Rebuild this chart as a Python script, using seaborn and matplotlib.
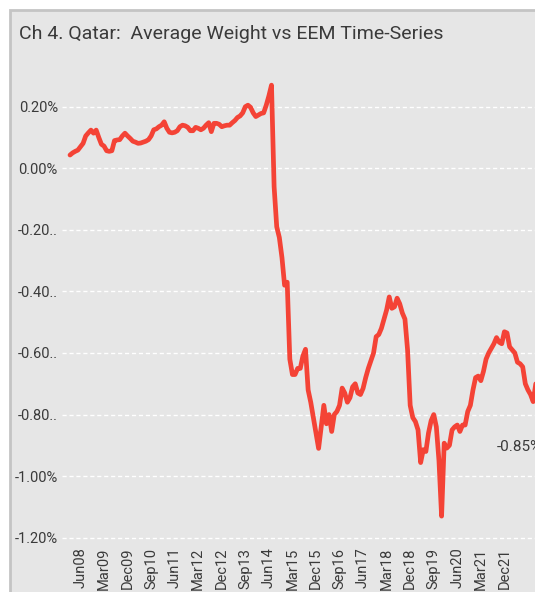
import numpy as np
import pandas as pd
import matplotlib
matplotlib.use("Agg")
import matplotlib.pyplot as plt
import seaborn as sns
from matplotlib.patches import Rectangle

# ---------------- data (monthly) ----------------
START_MONTH = "2008-02"
weights = [
    0.043, 0.05, 0.055, 0.059, 0.07, 0.081, 0.105, 0.115, 0.124, 0.114,
    0.124, 0.10, 0.078, 0.072, 0.057, 0.055, 0.057, 0.09, 0.092, 0.093,
    0.105, 0.114, 0.105, 0.097, 0.088, 0.085, 0.081, 0.082, 0.085, 0.088,
    0.093, 0.105, 0.125, 0.128, 0.135, 0.14, 0.151, 0.13, 0.117, 0.115,
    0.117, 0.122, 0.135, 0.14, 0.138, 0.133, 0.122, 0.122, 0.133, 0.13,
    0.125, 0.13, 0.14, 0.148, 0.119, 0.146, 0.146, 0.143, 0.135, 0.138,
    0.14, 0.14, 0.148, 0.155, 0.165, 0.17, 0.18, 0.2, 0.205, 0.198,
    0.18, 0.168, 0.173, 0.178, 0.18, 0.205, 0.235, 0.27, -0.06, -0.19,
    -0.225, -0.29, -0.38, -0.37, -0.62, -0.67, -0.67, -0.65, -0.65, -0.61,
    -0.588, -0.72, -0.76, -0.81, -0.86, -0.91, -0.84, -0.77, -0.83, -0.80,
    -0.855, -0.80, -0.79, -0.77, -0.714, -0.73, -0.76, -0.745, -0.71, -0.70,
    -0.73, -0.735, -0.715, -0.68, -0.65, -0.625, -0.60, -0.547, -0.54, -0.52,
    -0.49, -0.46, -0.418, -0.455, -0.45, -0.422, -0.44, -0.47, -0.49, -0.59,
    -0.77, -0.81, -0.823, -0.85, -0.956, -0.914, -0.92, -0.86, -0.82, -0.80,
    -0.84, -0.95, -1.13, -0.893, -0.909, -0.90, -0.85, -0.84, -0.834, -0.855,
    -0.834, -0.834, -0.79, -0.77, -0.72, -0.68, -0.675, -0.69, -0.66, -0.62,
    -0.60, -0.585, -0.57, -0.55, -0.565, -0.57, -0.531, -0.535, -0.58, -0.59,
    -0.60, -0.63, -0.635, -0.645, -0.70, -0.72, -0.735, -0.758, -0.70,
]
tick_labels = ["Jun08", "Mar09", "Dec09", "Sep10", "Jun11", "Mar12", "Dec12",
               "Sep13", "Jun14", "Mar15", "Dec15", "Sep16", "Jun17", "Mar18",
               "Dec18", "Sep19", "Jun20", "Mar21", "Dec21"]
y_ticks = [0.2, 0.0, -0.2, -0.4, -0.6, -0.8, -1.0, -1.2]
y_tick_labels = ["0.20%", "0.00%", "-0.20..", "-0.40..", "-0.60..", "-0.80..",
                 "-1.00%", "-1.20%"]
TITLE = "Ch 4. Qatar:  Average Weight vs EEM Time-Series"
END_LABEL = "-0.85%"

W, H = 535, 592
LINE_COLOR = "#f44336"
TEXT_COLOR = "#3a3a3a"

sns.set_theme(style="white")
plt.rcParams["font.family"] = ["Roboto", "DejaVu Sans"]

dates = pd.date_range(START_MONTH, periods=len(weights), freq="MS")
df = pd.DataFrame({"month": np.arange(len(weights)),
                   "weight": weights,
                   "label": dates.strftime("%b%y")})

fig = plt.figure(figsize=(W / 100, H / 100), dpi=100)
fig.patch.set_facecolor("white")
# grey panel with a light border, cut off at right/bottom like the original
fig.patches.append(Rectangle((10 / W, -0.1), 1.2, 1.1 - 10 / H,
                             transform=fig.transFigure, facecolor="#e6e6e6",
                             edgecolor="#c4c4c4", lw=2, zorder=-10))

ax = fig.add_axes([62 / W, 1 - 542 / H, (535 - 62) / W, (542 - 75) / H])
ax.set_facecolor("none")

sns.lineplot(data=df, x="month", y="weight", color=LINE_COLOR, lw=3.4, ax=ax)

ax.set_xlim(-3.06, 177.7)
ax.set_ylim(-1.214, 0.303)

tick_pos = df.loc[df["label"].isin(tick_labels), "month"].tolist()
ax.set_xticks(tick_pos, tick_labels, rotation=90)
ax.set_yticks(y_ticks, y_tick_labels)
ax.tick_params(axis="both", length=0, labelsize=10.5, labelcolor=TEXT_COLOR)
ax.tick_params(axis="y", pad=3)
ax.tick_params(axis="x", pad=4)
ax.yaxis.grid(True, color="white", ls=(0, (3, 2)), lw=1)
ax.xaxis.grid(False)
ax.set_xlabel("")
ax.set_ylabel("")
for s in ax.spines.values():
    s.set_visible(False)

fig.text(19 / W, 1 - 34 / H, TITLE, ha="left", va="center",
         fontsize=14, color=TEXT_COLOR)
fig.text(497 / W, 1 - 447 / H, END_LABEL, ha="left", va="center",
         fontsize=11, color=TEXT_COLOR)

fig.savefig("out.png", dpi=100)
